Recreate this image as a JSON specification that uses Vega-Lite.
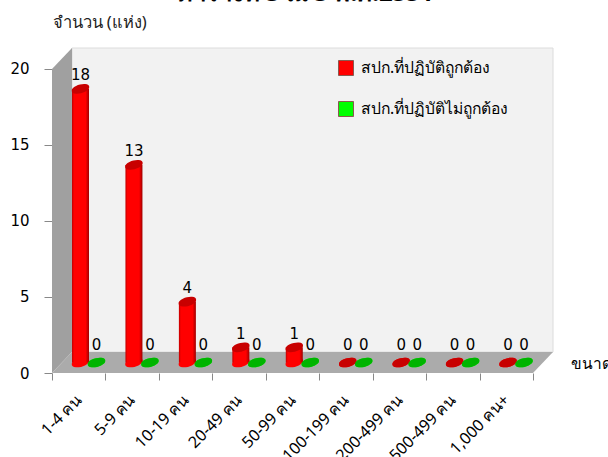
{
"$schema":"https://vega.github.io/schema/vega-lite/v6.json",
"width":501,"height":325,"padding":{"left":52,"top":48,"right":55,"bottom":84},"autosize":{"type":"none"},
"background":"white",
"config":{"view":{"stroke":null}},
"title":{"text":"ตารางที่ 3 ณ 3 พ.ศ.2551","anchor":"start","frame":"group","offset":8,"dx":125,"fontSize":24,"fontWeight":"bold","font":"Noto Sans","color":"#000000"},
"datasets":{
"rows":[
{"cat":"1-4 คน","series":"สปก.ที่ปฏิบัติถูกต้อง","value":18},{"cat":"1-4 คน","series":"สปก.ที่ปฏิบัติไม่ถูกต้อง","value":0},
{"cat":"5-9 คน","series":"สปก.ที่ปฏิบัติถูกต้อง","value":13},{"cat":"5-9 คน","series":"สปก.ที่ปฏิบัติไม่ถูกต้อง","value":0},
{"cat":"10-19 คน","series":"สปก.ที่ปฏิบัติถูกต้อง","value":4},{"cat":"10-19 คน","series":"สปก.ที่ปฏิบัติไม่ถูกต้อง","value":0},
{"cat":"20-49 คน","series":"สปก.ที่ปฏิบัติถูกต้อง","value":1},{"cat":"20-49 คน","series":"สปก.ที่ปฏิบัติไม่ถูกต้อง","value":0},
{"cat":"50-99 คน","series":"สปก.ที่ปฏิบัติถูกต้อง","value":1},{"cat":"50-99 คน","series":"สปก.ที่ปฏิบัติไม่ถูกต้อง","value":0},
{"cat":"100-199 คน","series":"สปก.ที่ปฏิบัติถูกต้อง","value":0},{"cat":"100-199 คน","series":"สปก.ที่ปฏิบัติไม่ถูกต้อง","value":0},
{"cat":"200-499 คน","series":"สปก.ที่ปฏิบัติถูกต้อง","value":0},{"cat":"200-499 คน","series":"สปก.ที่ปฏิบัติไม่ถูกต้อง","value":0},
{"cat":"500-499 คน","series":"สปก.ที่ปฏิบัติถูกต้อง","value":0},{"cat":"500-499 คน","series":"สปก.ที่ปฏิบัติไม่ถูกต้อง","value":0},
{"cat":"1,000 คน+","series":"สปก.ที่ปฏิบัติถูกต้อง","value":0},{"cat":"1,000 คน+","series":"สปก.ที่ปฏิบัติไม่ถูกต้อง","value":0}
]},
"data":{"name":"rows"},
"resolve":{"scale":{"x":"independent"},"axis":{"x":"independent"}},
"layer":[
{"data":{"values":[{"a":0.374,"b":9.374,"lo":1.38,"hi":21.38}]},
 "mark":{"type":"rect","fill":"#f2f2f2","stroke":"#dcdcdc","strokeWidth":1},
 "encoding":{"x":{"field":"a","type":"quantitative","scale":{"domain":[0,9.374],"range":[0,501]},"axis":null},"x2":{"field":"b"},
  "y":{"field":"lo","type":"quantitative","scale":{"domain":[0,21.38],"range":[325,0],"nice":false},"axis":{"title":"จำนวน (แห่ง)","titleAngle":0,"titleAlign":"left","titleBaseline":"middle","titleX":0,"titleY":-26,"titleFont":"Noto Sans","titleFontSize":16.5,"titleFontWeight":"normal","titleColor":"#222222","values":[0,5,10,15,20],"grid":false,"domain":false,"tickColor":"#888888","tickSize":8,"labelFontSize":15,"labelFont":"DejaVu Sans","labelColor":"#000000","labelPadding":15}},"y2":{"field":"hi"}}},
{"data":{"values":[{"p":0,"lo":0,"hi":20},{"p":0.374,"lo":1.38,"hi":21.38}]},
 "mark":{"type":"area","fill":"#a0a0a0","interpolate":"linear","orient":"vertical"},
 "encoding":{"x":{"field":"p","type":"quantitative","scale":{"domain":[0,9.374],"range":[0,501]},"axis":null},"y":{"field":"lo","type":"quantitative"},"y2":{"field":"hi"}}},
{"data":{"values":[{"p":0,"lo":0,"hi":0},{"p":0.374,"lo":0,"hi":1.38},{"p":9,"lo":0,"hi":1.38},{"p":9.374,"lo":1.38,"hi":1.38}]},
 "mark":{"type":"area","fill":"#ababab","interpolate":"linear","orient":"vertical"},
 "encoding":{"x":{"field":"p","type":"quantitative","scale":{"domain":[0,9.374],"range":[0,501]},"axis":null},"y":{"field":"lo","type":"quantitative"},"y2":{"field":"hi"}}},
{"layer":[
 {"mark":{"type":"point","filled":true,"opacity":1,"size":324,"shape":"M-0.97,0.2A1,0.45,-15,1,1,0.97,-0.2A1,0.45,-15,1,1,-0.97,0.2Z","yOffset":-10.5},
  "encoding":{"y":{"datum":0,"type":"quantitative"},
   "color":{"field":"series","type":"nominal","sort":null,"scale":{"domain":["สปก.ที่ปฏิบัติถูกต้อง","สปก.ที่ปฏิบัติไม่ถูกต้อง"],"range":["#ff0000","#00ff00"]},
    "legend":{"title":null,"orient":"none","legendX":286,"legendY":12,"symbolType":"square","symbolSize":225,"symbolStrokeColor":"#8a5a50","symbolStrokeWidth":1,"symbolOpacity":1,"labelFontSize":15.7,"labelFont":"Noto Sans","labelColor":"#000000","rowPadding":21,"labelOffset":7,"labelLimit":300}}}},
 {"transform":[{"filter":"datum.value>0"}],
  "mark":{"type":"bar","size":17,"yOffset":-10.5,"y2Offset":-10.5,"color":{"gradient":"linear","x1":0,"x2":1,"y1":0,"y2":0,"stops":[{"offset":0,"color":"#c00000"},{"offset":0.12,"color":"#ff0000"},{"offset":0.8,"color":"#ff0000"},{"offset":1,"color":"#a00000"}]}},
  "encoding":{"y":{"field":"value","type":"quantitative"},"y2":{"datum":0}}},
 {"mark":{"type":"point","filled":true,"opacity":1,"size":324,"shape":"M-0.97,0.2A1,0.45,-15,1,1,0.97,-0.2A1,0.45,-15,1,1,-0.97,0.2Z","yOffset":-10.5},
  "encoding":{"y":{"field":"value","type":"quantitative"},
   "color":{"condition":{"test":"datum.series==='สปก.ที่ปฏิบัติไม่ถูกต้อง'","value":"#00b400"},"value":"#c80000"}}},
 {"transform":[{"filter":"datum.value>0"}],
  "mark":{"type":"text","dy":-24,"fontSize":15,"font":"DejaVu Sans","color":"#000000"},
  "encoding":{"y":{"field":"value","type":"quantitative"},"text":{"field":"value","type":"quantitative"}}},
 {"transform":[{"filter":"datum.value==0"}],
  "mark":{"type":"text","dy":-28,"fontSize":15,"font":"DejaVu Sans","color":"#000000"},
  "encoding":{"y":{"field":"value","type":"quantitative"},"text":{"field":"value","type":"quantitative"}}}
 ],
 "encoding":{
  "x":{"field":"cat","type":"nominal","sort":null,"scale":{"type":"band","domain":["1-4 คน","5-9 คน","10-19 คน","20-49 คน","50-99 คน","100-199 คน","200-499 คน","500-499 คน","1,000 คน+"],"range":[0,481],"paddingInner":0,"paddingOuter":0},
   "axis":{"title":"ขนาด","titleX":518,"titleY":-10,"titleAlign":"left","titleBaseline":"middle","titleFont":"Noto Sans","titleFontSize":15.5,"titleFontWeight":"normal","titleColor":"#000000","labelAngle":-45,"labelAlign":"right","labelBaseline":"middle","labelFontSize":16,"labelFont":"Noto Sans","labelColor":"#000000","labelPadding":17,"tickBand":"extent","tickColor":"#888888","tickSize":7,"domain":false,"grid":false,"labelOverlap":false,"labelLimit":200}},
  "xOffset":{"field":"series","type":"nominal","sort":null,"scale":{"domain":["สปก.ที่ปฏิบัติถูกต้อง","สปก.ที่ปฏิบัติไม่ถูกต้อง"],"range":[20.5,52.5],"paddingInner":0,"paddingOuter":0}}
 }}
]}
